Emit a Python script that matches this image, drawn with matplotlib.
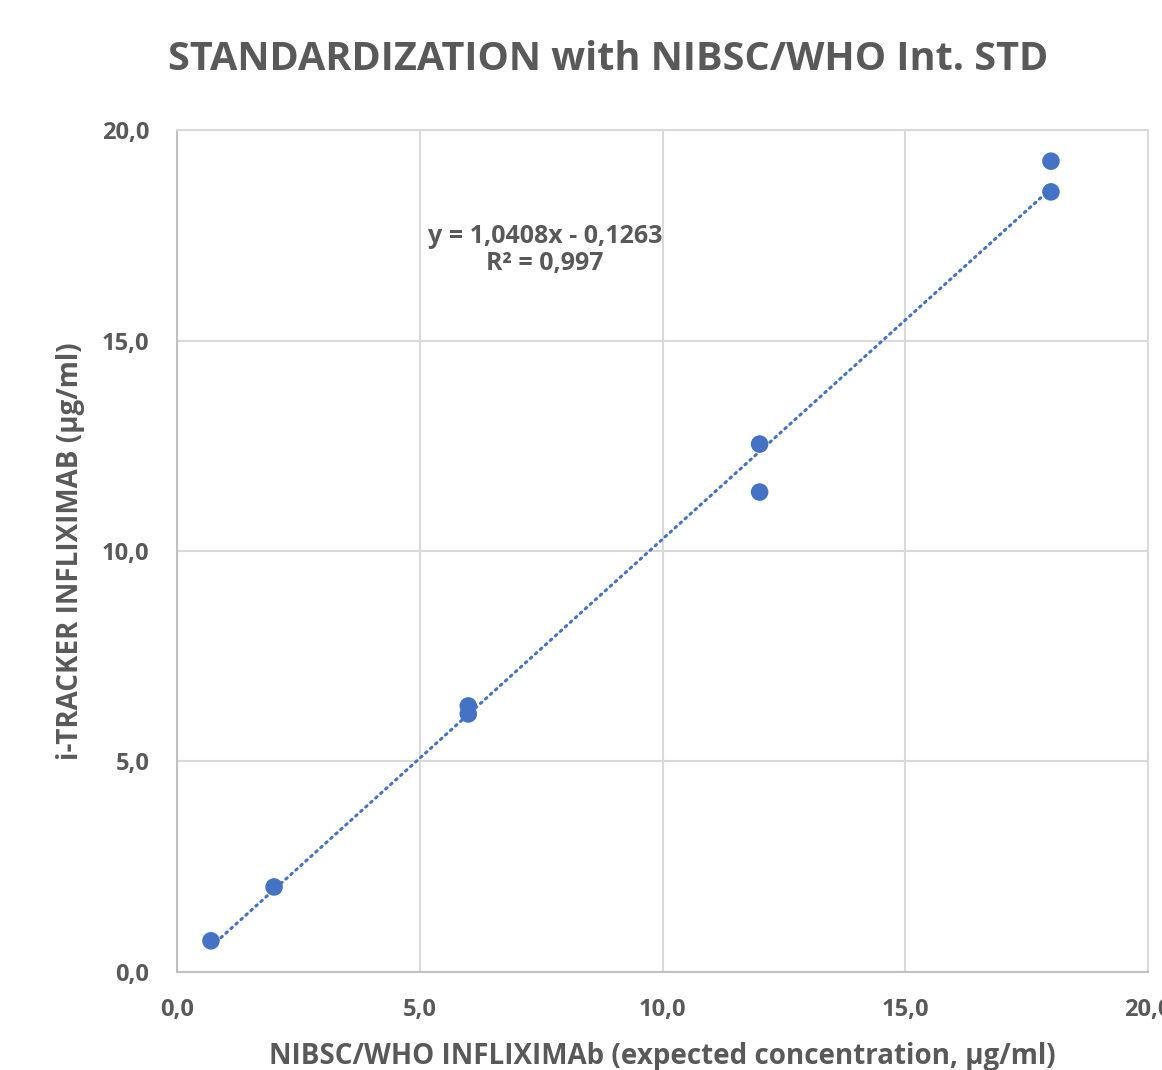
import numpy as np
import matplotlib
matplotlib.use("Agg")
import matplotlib.pyplot as plt

# Data
expected = [0.7, 2.0, 6.0, 6.0, 12.0, 12.0, 18.0, 18.0]
measured = [0.74, 2.02, 6.32, 6.13, 12.54, 11.40, 19.26, 18.53]
slope = 1.0408
intercept = -0.1263
r2 = 0.997
ticks = [0, 5, 10, 15, 20]

blue = "#4472C4"
grey_txt = "#595959"
grid_col = "#D9D9D9"

plt.rcParams['font.family'] = ['Open Sans', 'DejaVu Sans']

fig = plt.figure(figsize=(11.62, 10.70), dpi=100)
ax = fig.add_axes([0.1523, 0.0916, 0.8357, 0.7869])

# trendline (linear fit from Excel)
xl = np.array([min(expected), max(expected)])
ax.plot(xl, slope * xl + intercept, color=blue, lw=2.2,
        linestyle=(0, (0.6, 1.6)), dash_capstyle="round", zorder=2)

ax.scatter(expected, measured, s=160, color=blue, edgecolors="none", zorder=3)

ax.set_xlim(0, 20)
ax.set_ylim(0, 20)
ax.set_xticks(ticks)
ax.set_yticks(ticks)
fmt = lambda v: f"{v:.1f}".replace(".", ",")
ax.set_xticklabels([fmt(t) for t in ticks])
ax.set_yticklabels([fmt(t) for t in ticks])
ax.tick_params(length=0, labelsize=17, colors=grey_txt)
ax.tick_params(axis="x", pad=19)
ax.tick_params(axis="y", pad=20)
for lab in ax.get_xticklabels() + ax.get_yticklabels():
    lab.set_fontweight("bold")

ax.grid(True, color=grid_col, lw=1.5)
ax.set_axisbelow(True)
for side in ["top", "right"]:
    ax.spines[side].set_color(grid_col)
    ax.spines[side].set_linewidth(1.5)
for side in ["left", "bottom"]:
    ax.spines[side].set_color("#BFBFBF")
    ax.spines[side].set_linewidth(1.5)

ax.set_xlabel("NIBSC/WHO INFLIXIMAb (expected concentration, µg/ml)",
              fontsize=20, fontweight="bold", color=grey_txt, labelpad=14)
ax.set_ylabel("i-TRACKER INFLIXIMAB (µg/ml)",
              fontsize=20, fontweight="bold", color=grey_txt, labelpad=12)

eq = f"y = {slope:.4f}x - {abs(intercept):.4f}".replace(".", ",")
r2txt = f"R² = {r2:.3f}".replace(".", ",")
ax.text(7.58, 17.15, eq + "\n" + r2txt, ha="center", va="center",
        fontsize=18, fontweight="bold", color=grey_txt, linespacing=1.15)

fig.text(0.523, 0.944, "STANDARDIZATION with NIBSC/WHO Int. STD",
         ha="center", va="center", fontsize=28.5, fontweight="bold", color=grey_txt)

fig.savefig("out.png", dpi=100, facecolor="white")
